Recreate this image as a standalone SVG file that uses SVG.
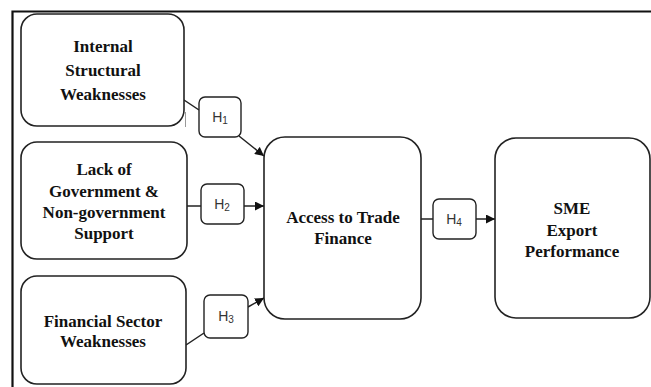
<svg xmlns="http://www.w3.org/2000/svg" width="651" height="387" viewBox="0 0 651 387">
<defs>
<style>
.box{fill:#fff;stroke:#222;stroke-width:1.6}
.hb{fill:#fff;stroke:#222;stroke-width:1.4}
.t{font-family:"Liberation Serif","Times New Roman",serif;font-weight:bold;font-size:17px;fill:#111;text-anchor:middle}
.h{font-family:"Liberation Sans",Arial,sans-serif;font-size:14px;fill:#333;text-anchor:middle}
.s{font-size:10px}
.c{fill:none;stroke:#222;stroke-width:1.5}
</style>
<marker id="ar" viewBox="0 0 10 10" refX="10" refY="5" markerWidth="9" markerHeight="9" markerUnits="userSpaceOnUse" orient="auto">
<path d="M0,0 L10,5 L0,10 z" fill="#111"/>
</marker>
</defs>
<rect width="651" height="387" fill="#fff"/>
<g id="frame">
<path d="M12.5,387 V11.5 H651" fill="none" stroke="#111" stroke-width="2.2"/>
</g>
<g id="connectors">
<path class="c" d="M184,100 L199,110"/>
<path class="c" d="M239,136 L264,156" marker-end="url(#ar)"/>
<path class="c" d="M187,206 L201,206"/>
<path class="c" d="M244,206 L264,206" marker-end="url(#ar)"/>
<path class="c" d="M186,345 L204,333"/>
<path class="c" d="M248,307 L264,298" marker-end="url(#ar)"/>
<path class="c" d="M421,219 L433,219"/>
<path class="c" d="M476,219 L495,219" marker-end="url(#ar)"/>
<path d="M185.5,112 V127" stroke="#999" stroke-width="1"/>
</g>
<g id="n1">
<rect class="box" x="21" y="14" width="163" height="112" rx="16"/>
<text class="t" x="103" y="52">Internal</text>
<text class="t" x="103" y="76">Structural</text>
<text class="t" x="103" y="100">Weaknesses</text>
</g>
<g id="n2">
<rect class="box" x="21" y="142" width="166" height="117" rx="16"/>
<text class="t" x="104" y="175">Lack of</text>
<text class="t" x="104" y="197">Government &amp;</text>
<text class="t" x="104" y="218">Non-government</text>
<text class="t" x="104" y="239">Support</text>
</g>
<g id="n3">
<rect class="box" x="21" y="276" width="165" height="108" rx="16"/>
<text class="t" x="103" y="327">Financial Sector</text>
<text class="t" x="103" y="347">Weaknesses</text>
</g>
<g id="n4">
<rect class="box" x="264" y="137" width="157" height="182" rx="21"/>
<text class="t" x="343" y="223">Access to Trade</text>
<text class="t" x="343" y="244">Finance</text>
</g>
<g id="n5">
<rect class="box" x="495" y="138" width="155" height="180" rx="21"/>
<text class="t" x="572" y="214">SME</text>
<text class="t" x="572" y="236">Export</text>
<text class="t" x="572" y="257">Performance</text>
</g>
<g id="h1">
<rect class="hb" x="199" y="97" width="42" height="40" rx="6"/>
<text class="h" x="220" y="122">H<tspan class="s" dy="2">1</tspan></text>
</g>
<g id="h2">
<rect class="hb" x="201" y="184" width="43" height="40" rx="6"/>
<text class="h" x="222" y="209">H<tspan class="s" dy="2">2</tspan></text>
</g>
<g id="h3">
<rect class="hb" x="204" y="295" width="44" height="43" rx="6"/>
<text class="h" x="226" y="321">H<tspan class="s" dy="2">3</tspan></text>
</g>
<g id="h4">
<rect class="hb" x="433" y="199" width="43" height="40" rx="6"/>
<text class="h" x="454" y="224">H<tspan class="s" dy="2">4</tspan></text>
</g>
</svg>
